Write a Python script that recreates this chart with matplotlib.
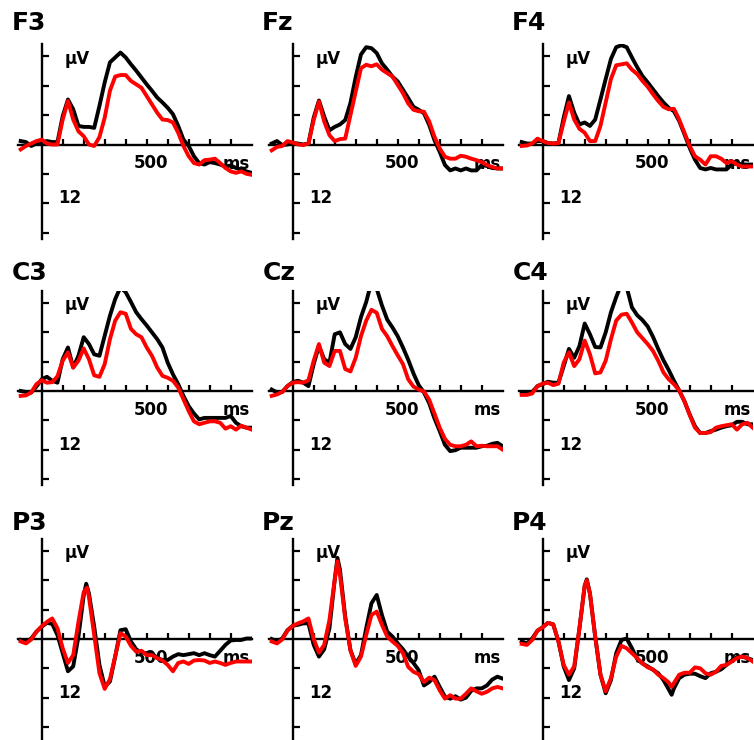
import matplotlib.pyplot as plt
import numpy as np

plt.rcParams['font.family'] = 'DejaVu Sans'
plt.rcParams['font.weight'] = 'bold'

# time grid in ms, values in microvolts (up = positive)
times = np.arange(-100, 1001, 25)

F3_black = [0.7, 0.5, -0.3, 0.2, 0.5, 0.7, 0.5, 0.5, 5.8, 9.2, 7.2, 3.8, 3.6, 3.6, 3.4, 7.9, 12.7, 16.8, 17.8, 18.8,
            17.8, 16.4, 15.1, 13.7, 12.3, 11.0, 9.6, 8.6, 7.5, 6.2, 3.8, 1.0, -0.3, -2.4, -3.8, -4.1, -3.6, -3.8,
            -4.1, -4.5, -4.3, -4.8, -5.1, -5.5, -5.8]
F3_red = [-1.0, -0.3, 0.2, 0.7, 1.0, 0.2, 0, 0, 5.1, 8.9, 5.1, 2.7, 1.7, 0, -0.3, 1.5, 5.5, 11.0, 13.9, 14.2,
          14.2, 13.0, 12.3, 11.6, 9.9, 8.2, 6.5, 5.1, 5.0, 4.5, 2.4, -0.3, -2.4, -3.8, -4.1, -3.2, -3.1, -2.9,
          -3.8, -4.8, -5.5, -5.8, -5.5, -6.0, -6.2]

Fz_black = [0.2, 0.7, -0.1, 0, 0.3, 0.2, 0, 0.2, 5.5, 9.0, 5.7, 2.9, 3.6, 4.1, 5.0, 8.5, 13.8, 18.4, 19.9, 19.7,
            18.7, 16.6, 15.3, 13.9, 12.9, 11.2, 9.5, 7.7, 7.1, 6.4, 4.0, 0.9, -1.5, -4.2, -5.3, -4.9, -5.3, -4.9,
            -5.3, -5.3, -4.2, -4.4, -4.8, -4.9, -4.9]
Fz_red = [-1.2, -0.5, -0.3, 0.7, 0.4, 0, -0.1, 0.2, 5.0, 8.8, 4.7, 1.9, 0.7, 1.1, 1.2, 6.0, 10.8, 15.6, 16.3, 16.0,
          16.4, 15.3, 14.6, 13.9, 12.2, 10.5, 8.4, 7.1, 6.8, 6.7, 4.7, 1.6, -0.8, -2.5, -2.9, -2.9, -2.3, -2.5,
          -2.9, -3.2, -3.6, -4.2, -4.6, -4.9, -4.9]

F4_black = [0.5, 0.2, 0.2, 0.7, 0.7, 0.3, 0.2, 0.3, 5.5, 9.9, 6.5, 4.1, 4.5, 3.8, 5.1, 9.2, 13.4, 17.5, 19.9, 20.3,
            19.9, 17.8, 15.8, 14.0, 12.7, 11.3, 9.9, 8.6, 7.5, 6.8, 4.8, 2.1, -0.7, -3.1, -4.8, -5.1, -4.8, -5.1,
            -5.1, -5.1, -4.1, -3.8, -4.1, -4.1, -4.1]
F4_red = [-0.3, -0.2, 0.2, 1.2, 0.7, 0.3, 0.2, 0.3, 4.6, 8.6, 5.1, 3.2, 2.4, 0.7, 0.7, 3.8, 8.6, 13.4, 16.2, 16.4,
          16.6, 15.3, 14.4, 13.0, 11.8, 10.3, 8.9, 7.7, 7.2, 7.3, 5.1, 2.4, -0.3, -2.4, -3.1, -4.1, -2.4, -2.4,
          -2.9, -3.8, -3.4, -4.1, -4.5, -4.5, -4.5]

C3_black = [0, -0.2, -0.3, 0.9, 2.4, 2.9, 2.1, 1.7, 6.5, 8.9, 4.8, 7.2, 11.0, 9.6, 7.5, 7.2, 11.3, 15.4, 18.8, 21.2,
            20.2, 18.2, 16.1, 14.7, 13.4, 12.0, 10.6, 8.9, 5.8, 3.4, 1.4, -1.0, -3.1, -4.6, -5.8, -5.5, -5.5, -5.5,
            -5.5, -5.5, -5.1, -6.5, -7.2, -7.5, -7.5]
C3_red = [-1.0, -0.9, -0.3, 1.4, 2.2, 1.7, 1.8, 3.0, 6.2, 7.9, 4.8, 6.2, 8.7, 6.5, 3.2, 2.9, 5.5, 10.6, 14.4, 16.1,
          15.8, 12.7, 11.6, 11.0, 8.9, 7.2, 4.8, 3.1, 2.7, 2.1, 0.7, -1.7, -4.1, -6.2, -6.8, -6.5, -6.2, -6.2,
          -6.5, -7.7, -7.2, -7.9, -7.1, -7.5, -7.9]

Cz_black = [0.3, -0.3, -0.2, 1.0, 1.8, 2.1, 1.7, 1.0, 5.5, 9.2, 6.5, 5.8, 11.6, 12.0, 9.6, 8.6, 11.0, 15.1, 18.2, 22.3,
            20.9, 17.5, 14.6, 13.0, 11.2, 8.9, 6.4, 3.6, 1.2, -0.3, -2.5, -5.6, -8.2, -11.0, -12.3, -12.1, -11.6,
            -11.6, -11.6, -11.6, -11.3, -11.2, -10.8, -10.6, -11.3]
Cz_red = [-1.0, -0.7, -0.2, 1.0, 1.7, 1.8, 1.7, 2.2, 6.2, 9.6, 5.8, 5.1, 8.2, 8.2, 4.5, 4.0, 6.8, 11.2, 14.4, 16.6,
          16.0, 12.7, 11.2, 9.2, 7.3, 5.5, 2.4, 0.9, 0.3, -0.1, -1.8, -4.6, -7.5, -9.8, -11.0, -11.3, -11.3, -11.0,
          -10.3, -11.3, -11.2, -11.3, -11.3, -11.3, -12.0]

C4_black = [-0.3, -0.3, -0.2, 1.0, 1.4, 1.9, 1.7, 1.7, 5.1, 8.6, 6.8, 9.2, 13.8, 11.6, 9.0, 8.9, 12.0, 16.1, 19.2, 21.9,
            21.2, 17.1, 15.5, 14.5, 13.2, 11.1, 8.6, 6.3, 4.3, 2.1, 0.1, -2.1, -4.8, -7.2, -8.6, -8.6, -8.2, -7.9,
            -7.5, -7.2, -7.0, -6.3, -6.3, -6.8, -6.8]
C4_red = [-0.8, -0.8, -0.5, 1.0, 1.5, 1.7, 1.2, 1.5, 5.8, 7.9, 5.1, 6.5, 10.3, 7.5, 3.6, 3.8, 6.2, 10.6, 14.4, 15.6,
          15.8, 14.0, 12.0, 10.8, 9.6, 8.2, 6.2, 3.8, 2.4, 1.4, 0.1, -2.1, -4.9, -7.5, -8.6, -8.6, -8.4, -7.5,
          -7.2, -7.0, -6.8, -7.9, -6.8, -6.5, -7.5]

P3_black = [-0.2, -0.7, 0.1, 1.5, 2.5, 3.3, 3.1, 0.8, -2.9, -6.6, -5.6, 0.5, 8.9, 9.3, 2.5, -5.3, -9.7, -8.7, -3.6, 1.8,
            2.0, -0.5, -2.1, -2.8, -2.9, -2.9, -3.9, -4.3, -4.3, -3.6, -3.1, -3.3, -3.1, -2.9, -3.3, -2.9, -3.3,
            -3.6, -2.4, -1.2, -0.3, -0.2, -0.2, 0.1, 0.1]
P3_red = [-0.5, -0.9, -0.1, 1.5, 2.6, 3.5, 4.2, 2.2, -1.9, -4.9, -3.3, 3.5, 9.6, 8.6, 0.8, -7.0, -10.2, -8.2, -3.5, 1.2,
          0.5, -1.4, -2.6, -2.4, -3.3, -3.3, -3.9, -4.4, -5.3, -6.6, -4.9, -4.6, -5.1, -4.4, -4.3, -4.4, -4.9,
          -4.6, -4.9, -5.3, -4.9, -4.6, -4.6, -4.6, -4.6]

Pz_black = [0, -0.5, 0.1, 1.8, 2.7, 2.9, 3.2, 3.2, -1.2, -3.6, -2.1, 2.2, 12.1, 14.2, 4.6, -2.3, -5.1, -3.3, 2.2, 7.3,
            9.0, 4.9, 1.5, 0.5, -0.9, -2.1, -3.6, -4.9, -6.4, -9.5, -8.8, -7.7, -9.8, -11.8, -12.2, -11.7, -12.4,
            -12.0, -10.6, -10.1, -10.1, -9.5, -8.3, -7.7, -8.1]
Pz_red = [-0.5, -0.9, -0.1, 1.7, 2.7, 3.2, 3.6, 4.2, 0, -2.8, -1.2, 3.9, 12.1, 13.2, 4.2, -2.3, -5.5, -3.6, 0.8, 4.9,
          5.6, 2.9, 0.5, -0.5, -1.4, -2.9, -5.7, -6.7, -7.2, -8.8, -7.9, -8.4, -10.5, -12.2, -11.5, -12.2, -12.2,
          -11.2, -10.1, -10.7, -11.2, -10.8, -10.1, -9.8, -10.1]

P4_black = [-0.5, -0.9, 0.1, 1.7, 2.4, 3.3, 3.0, -0.5, -5.6, -8.4, -6.0, 2.2, 10.9, 9.3, 0.5, -7.3, -11.1, -8.4, -2.9,
            -0.2, 0.1, -1.9, -4.1, -5.0, -5.6, -6.3, -7.0, -8.4, -10.3, -10.1, -8.0, -7.3, -7.1, -7.1, -7.6, -8.0,
            -7.0, -6.7, -6.2, -5.3, -4.4, -3.7, -3.6, -3.9, -4.3]
P4_red = [-1.0, -1.2, -0.2, 1.7, 2.4, 3.3, 3.0, -0.5, -5.3, -7.3, -5.6, 2.2, 10.9, 9.3, 0.5, -7.3, -10.7, -8.0, -3.6,
          -1.4, -1.9, -2.9, -3.9, -5.0, -5.8, -6.2, -7.3, -8.0, -8.9, -9.0, -7.3, -6.9, -6.9, -5.8, -6.0, -7.0,
          -7.3, -6.7, -5.5, -5.3, -4.6, -3.9, -3.6, -3.9, -4.6]

# sharp peaks that fall between grid samples (ms, uV)
extra_points = {
    'P3_black': [(212, 11.3)], 'P3_red': [(216, 10.5)],
    'Pz_black': [(213, 16.6)], 'Pz_red': [(213, 15.9)],
    'P4_black': [(210, 12.2), (614, -11.4)], 'P4_red': [(210, 12.0), (614, -9.8)],
}

channels = [['F3', 'Fz', 'F4'], ['C3', 'Cz', 'C4'], ['P3', 'Pz', 'P4']]
waves = {
    'F3': (F3_black, F3_red), 'Fz': (Fz_black, Fz_red), 'F4': (F4_black, F4_red),
    'C3': (C3_black, C3_red), 'Cz': (Cz_black, Cz_red), 'C4': (C4_black, C4_red),
    'P3': (P3_black, P3_red), 'Pz': (Pz_black, Pz_red), 'P4': (P4_black, P4_red),
}

W, H = 754, 740
PX_MS = 0.21
PX_UV = 4.89
X_MIN, X_MAX = -112, 1000
Y_TOP = 20.5
col_x = [41.7, 292.7, 542.7]
row_y = [144.5, 391.0, 639.0]
row_ybot = [-19.3, -19.3, -21.5]
title_y = [23.4, 22.7, 22.3]


def with_extras(key, values):
    pts = list(zip(times, values)) + extra_points.get(key, [])
    pts.sort()
    t, v = zip(*pts)
    return t, v


fig = plt.figure(figsize=(W / 100, H / 100), dpi=100)

for r, row in enumerate(channels):
    for c, name in enumerate(row):
        ox, oy = col_x[c], row_y[r]
        left = ox + X_MIN * PX_MS
        width = (X_MAX - X_MIN) * PX_MS
        top = oy - Y_TOP * PX_UV
        bottom = oy - row_ybot[r] * PX_UV
        ax = fig.add_axes([left / W, 1 - bottom / H, width / W, (bottom - top) / H])
        ax.set_xlim(X_MIN, X_MAX)
        ax.set_ylim(row_ybot[r], Y_TOP)
        ax.patch.set_visible(False)

        for side in ['top', 'right']:
            ax.spines[side].set_visible(False)
        for side in ['left', 'bottom']:
            ax.spines[side].set_position(('data', 0))
            ax.spines[side].set_linewidth(1.7)

        ax.set_xticks(range(100, 1000, 100))
        ax.set_yticks([-18, -12, -6, 6, 12, 18])
        ax.tick_params(axis='x', direction='in', length=4, width=1.6, labelbottom=False)
        ax.tick_params(axis='y', direction='in', length=5, width=1.6, labelleft=False)

        black, red = waves[name]
        t, v = with_extras(name + '_black', black)
        ax.plot(t, v, color='black', lw=2.8, zorder=3, solid_joinstyle='round')
        t, v = with_extras(name + '_red', red)
        ax.plot(t, v, color='#ff0000', lw=2.8, zorder=4, solid_joinstyle='round')

        ax.text(-145, title_y[r], name, fontsize=18, fontweight='bold', ha='left', va='baseline')
        ax.text(110, 16.5, 'μV', fontsize=12, fontweight='bold', ha='left', va='baseline', zorder=1)
        ax.text(79, -12.0, '12', fontsize=12, fontweight='bold', ha='left', va='baseline', zorder=1)
        ax.text(520, -4.9, '500', fontsize=12, fontweight='bold', ha='center', va='baseline', zorder=1)
        ax.text(990, -5.0, 'ms', fontsize=12, fontweight='bold', ha='right', va='baseline', zorder=1)

fig.savefig('out.png', dpi=100)
